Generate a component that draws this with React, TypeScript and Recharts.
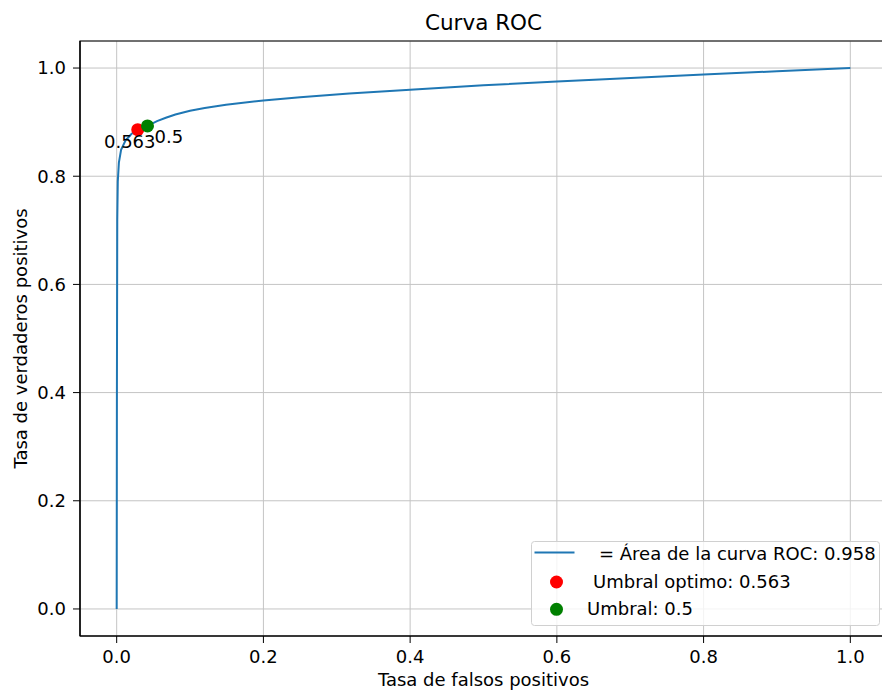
import React from 'react';
import { ComposedChart, Line, Scatter, XAxis, YAxis, CartesianGrid, ReferenceArea, Legend } from 'recharts';

// ROC curve
const fprValues = [0, 0.0003, 0.0008, 0.0015, 0.003, 0.006, 0.012, 0.02, 0.0287, 0.042, 0.055, 0.067, 0.08, 0.1, 0.12, 0.149, 0.2, 0.25, 0.317, 0.4, 0.5, 0.6, 0.658, 0.8, 0.9, 1.0];
const tprValues = [0, 0.4, 0.72, 0.79, 0.825, 0.849, 0.866, 0.878, 0.886, 0.893, 0.902, 0.908, 0.914, 0.921, 0.926, 0.932, 0.94, 0.946, 0.953, 0.96, 0.968, 0.975, 0.979, 0.988, 0.994, 1.0];

const optimalPoint = [{ fpr: 0.0287, tpr: 0.886, label: '0.563' }];
const defaultPoint = [{ fpr: 0.042, tpr: 0.893, label: '0.5' }];

const axisTicks = [0, 0.2, 0.4, 0.6, 0.8, 1.0];
const legendLabels = ['= Área de la curva ROC: 0.958', 'Umbral optimo: 0.563', 'Umbral: 0.5'];

const rocData = fprValues.map((fpr, i) => ({ fpr, tpr: tprValues[i] }));

const FONT = '"DejaVu Sans", sans-serif';
const FS = 18;
const BLUE = '#1f77b4';
const RED = '#ff0000';
const GREEN = '#008000';

const makeDot = (color: string, labelDx: number, labelDy: number, anchor: string) => (props: any) => {
  const { cx, cy, payload } = props;
  return (
    <g>
      <circle cx={cx} cy={cy} r={6.5} fill={color} />
      <text x={cx + labelDx} y={cy + labelDy} textAnchor={anchor} fontSize={FS} fill="#000">
        {payload.label}
      </text>
    </g>
  );
};

const RocLegend = () => (
  <svg width={350} height={86} style={{ display: 'block', fontFamily: FONT }}>
    <rect x={0.5} y={0.5} width={348} height={84} rx={3} fill="rgba(255,255,255,0.8)" stroke="#d0d0d0" />
    <line x1={3.5} x2={43.5} y1={11.5} y2={11.5} stroke={BLUE} strokeWidth={2} />
    <text x={68} y={12.5} dominantBaseline="central" fontSize={FS} fill="#000">{legendLabels[0]}</text>
    <circle cx={25.5} cy={41} r={6.5} fill={RED} />
    <text x={62} y={40.5} dominantBaseline="central" fontSize={FS} fill="#000">{legendLabels[1]}</text>
    <circle cx={25.5} cy={68.3} r={6.5} fill={GREEN} />
    <text x={56} y={67.5} dominantBaseline="central" fontSize={FS} fill="#000">{legendLabels[2]}</text>
  </svg>
);

export default function App() {
  return (
    <div style={{ position: 'absolute', left: 0, top: 0, width: 882, height: 693, overflow: 'hidden', background: '#fff', fontFamily: FONT }}>
      <div style={{ position: 'absolute', left: 80, width: 807, top: 10, textAlign: 'center', fontSize: 21.5, lineHeight: '25px', color: '#000', zIndex: 2 }}>
        Curva ROC
      </div>
      <ComposedChart width={890} height={693} data={rocData} margin={{ top: 41, right: 3, bottom: 0, left: 0 }}>
        <CartesianGrid stroke="#c4c4c4" strokeWidth={1} />
        <XAxis
          type="number"
          dataKey="fpr"
          domain={[-0.05, 1.05]}
          ticks={axisTicks}
          allowDataOverflow
          tickFormatter={(v: number) => v.toFixed(1)}
          tickSize={7}
          tickMargin={7}
          height={57}
          axisLine={{ stroke: '#000', strokeWidth: 1.2 }}
          tickLine={{ stroke: '#000' }}
          tick={{ fill: '#000', fontSize: FS }}
          label={{ value: 'Tasa de falsos positivos', position: 'insideBottom', offset: 7, fill: '#000', fontSize: FS }}
        />
        <YAxis
          type="number"
          dataKey="tpr"
          domain={[-0.05, 1.05]}
          ticks={axisTicks}
          allowDataOverflow
          tickFormatter={(v: number) => v.toFixed(1)}
          tickSize={7}
          tickMargin={7}
          width={80}
          axisLine={{ stroke: '#000', strokeWidth: 1.2 }}
          tickLine={{ stroke: '#000' }}
          tick={{ fill: '#000', fontSize: FS }}
          label={{ value: 'Tasa de verdaderos positivos', angle: -90, position: 'center', dx: -19, fill: '#000', fontSize: FS }}
        />
        <ReferenceArea x1={-0.05} x2={1.05} y1={-0.05} y2={1.05} fill="none" fillOpacity={0} stroke="#000" strokeWidth={1.2} />
        <Line type="linear" dataKey="tpr" stroke={BLUE} strokeWidth={2} dot={false} isAnimationActive={false} />
        <Scatter data={optimalPoint} dataKey="tpr" shape={makeDot(RED, -8, 18, 'middle')} isAnimationActive={false} />
        <Scatter data={defaultPoint} dataKey="tpr" shape={makeDot(GREEN, 7, 17, 'start')} isAnimationActive={false} />
        <Legend
          layout="vertical"
          align="center"
          verticalAlign="middle"
          content={() => <RocLegend />}
          wrapperStyle={{ left: 531, top: 541, width: 350, height: 86 }}
        />
      </ComposedChart>
    </div>
  );
}
